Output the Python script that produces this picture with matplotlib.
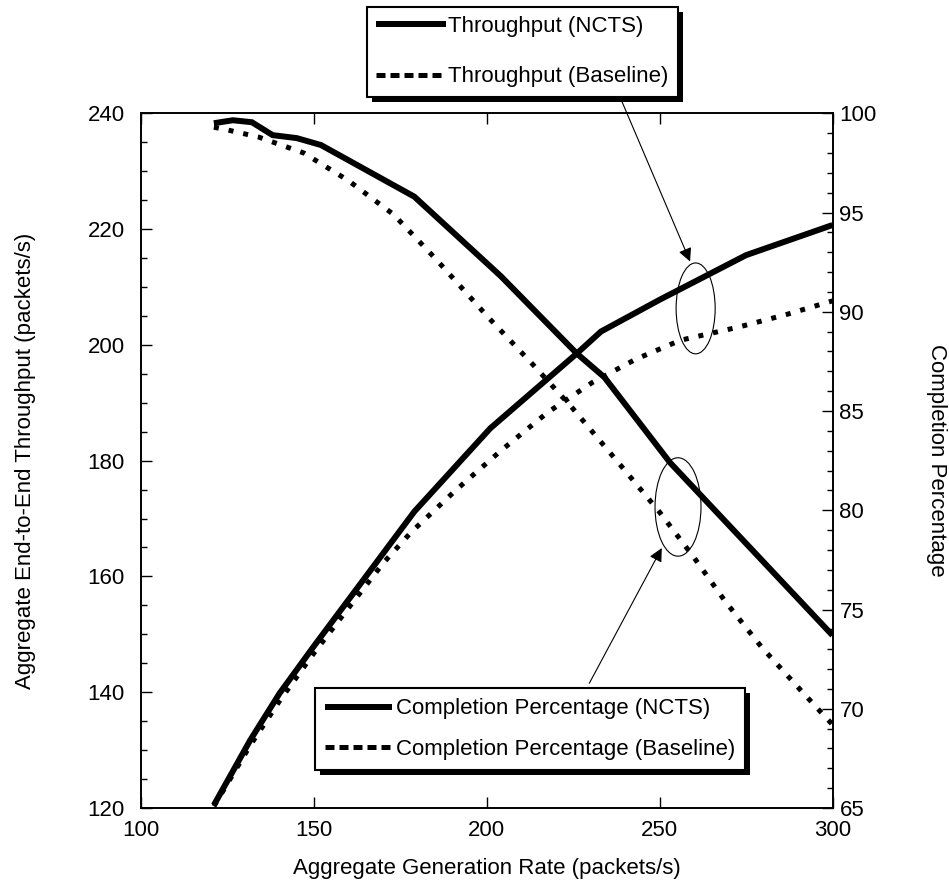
import numpy as np
import matplotlib
matplotlib.use("Agg")
import matplotlib.pyplot as plt
from matplotlib.lines import Line2D
from matplotlib.patches import Ellipse, Rectangle
from matplotlib.ticker import MultipleLocator
from matplotlib.transforms import IdentityTransform

plt.rcParams['font.family'] = ['Liberation Sans', 'DejaVu Sans']

# throughput (left axis)
x_thr_ncts = [121, 131.5, 140, 150, 162, 179, 201, 226, 233, 250, 275, 300]
thr_ncts = [120.5, 131.7, 139.8, 148, 157.6, 171.2, 185.6, 198.5, 202.3, 207.8, 215.5, 220.7]

x_thr_base = [121, 131.5, 140, 150, 160, 170, 178, 191, 204, 217.5, 230.5, 243, 256, 273, 287, 300]
thr_base = [120.3, 130.8, 138.5, 146.8, 154.6, 162.3, 167.6, 174.9, 181.7, 188.3, 193.5, 197.5, 200.8, 203.1, 205.3, 207.6]

# completion percentage (right axis)
x_comp_ncts = [121, 126.5, 132, 138, 145, 152, 179, 204, 226, 234, 253, 300]
comp_ncts = [99.5, 99.65, 99.55, 98.9, 98.75, 98.4, 95.8, 91.8, 87.9, 86.7, 82.4, 73.7]

x_comp_base = [121, 125, 134, 147, 160, 173, 185, 200.5, 213, 224.5, 239, 250, 260, 269, 279.5, 291.5, 300]
comp_base = [99.3, 99.16, 98.8, 98.0, 96.6, 94.9, 92.7, 89.7, 87.4, 85.2, 82.2, 79.9, 77.6, 75.4, 73.1, 70.8, 69.2]

W, H = 949, 892
fig = plt.figure(figsize=(W / 100, H / 100), dpi=100)
ax = fig.add_axes([141.3 / W, 1 - 808 / H, (832.5 - 141.3) / W, (808 - 113.3) / H])
ax2 = ax.twinx()

fs = 16
dot = (0, (1, 2))
ax.plot(x_thr_ncts, thr_ncts, color='k', lw=4.3, solid_capstyle='butt', solid_joinstyle='miter')
ax.plot(x_thr_base, thr_base, color='k', lw=3.6, linestyle=dot, dash_capstyle='butt')
ax2.plot(x_comp_ncts, comp_ncts, color='k', lw=4.3, solid_capstyle='butt', solid_joinstyle='miter')
ax2.plot(x_comp_base, comp_base, color='k', lw=3.6, linestyle=dot, dash_capstyle='butt')

ax.set_xlim(100, 300)
ax.set_ylim(120, 240)
ax2.set_ylim(65, 100)

ax.xaxis.set_major_locator(MultipleLocator(50))
ax.yaxis.set_major_locator(MultipleLocator(20))
ax.yaxis.set_minor_locator(MultipleLocator(5))
ax2.yaxis.set_major_locator(MultipleLocator(5))
ax2.yaxis.set_minor_locator(MultipleLocator(1))

ax.tick_params(axis='x', which='major', direction='in', length=8, width=1, top=True, labelsize=fs, pad=9)
ax.tick_params(axis='y', which='major', direction='in', length=8, width=1, labelsize=fs, pad=12)
ax.tick_params(axis='y', which='minor', direction='in', length=4.5, width=1)
ax2.tick_params(axis='y', which='major', direction='in', length=8, width=1, labelsize=fs, pad=5)
ax2.tick_params(axis='y', which='minor', direction='in', length=4.5, width=1)
for a in (ax, ax2):
    for s in a.spines.values():
        s.set_linewidth(1.2)

ax.set_xlabel('Aggregate Generation Rate (packets/s)', fontsize=fs)
ax.xaxis.set_label_coords(0.5, -0.072)
ax.set_ylabel('Aggregate End-to-End Throughput (packets/s)', fontsize=fs)
ax.yaxis.set_label_coords(-0.153, 0.5)
ax2.set_ylabel('Completion Percentage', fontsize=fs, rotation=-90)
ax2.yaxis.set_label_coords(1.165, 0.5)

# ellipses marking the groups
ax.add_patch(Ellipse((260.4, 206.3), 11.3, 15.7, fill=False, lw=0.8, color='k'))
ax.add_patch(Ellipse((255.3, 172.0), 13.3, 17.0, fill=False, lw=0.8, color='k'))

arrow = dict(arrowstyle='-|>', lw=0.8, color='k', mutation_scale=20, shrinkA=0, shrinkB=0)
ax.annotate('', xy=(258.8, 214.4), xycoords='data', xytext=(620 / W, 1 - 97 / H),
            textcoords='figure fraction', arrowprops=arrow)
ax.annotate('', xy=(250.6, 164.9), xycoords='data', xytext=(589.3 / W, 1 - 683.3 / H),
            textcoords='figure fraction', arrowprops=arrow)

solid_h = Line2D([], [], color='k', lw=4.3, solid_capstyle='butt')
dash_h = Line2D([], [], color='k', lw=3.6, linestyle=(0, (1.8, 1.0)), dash_capstyle='butt')

leg1 = fig.legend([solid_h, dash_h], ['Throughput (NCTS)', 'Throughput (Baseline)'],
                  loc='upper left', bbox_to_anchor=(366.7 / W, 1 - 6.7 / H), borderaxespad=0,
                  fontsize=fs, frameon=True, fancybox=False, edgecolor='k', framealpha=1,
                  handlelength=3.15, handletextpad=0.1, labelspacing=1.32, borderpad=0.42)
leg1.get_frame().set_linewidth(1.5)

leg2 = ax2.legend([solid_h, dash_h], ['Completion Percentage (NCTS)', 'Completion Percentage (Baseline)'],
                  loc='upper left', bbox_to_anchor=(315 / W, 1 - 688.3 / H),
                  bbox_transform=fig.transFigure, borderaxespad=0,
                  fontsize=fs, frameon=True, fancybox=False, edgecolor='k', framealpha=1,
                  handlelength=3.0, handletextpad=0.2, labelspacing=0.87, borderpad=0.45)
leg2.get_frame().set_linewidth(1.5)

# heavy drop shadows behind the legend boxes
fig.canvas.draw()
for leg, owner in ((leg1, fig), (leg2, ax2)):
    bb = leg.get_frame().get_window_extent()
    sh = Rectangle((bb.x0 + 5, bb.y0 - 5), bb.width, bb.height, transform=IdentityTransform(),
                   facecolor='k', edgecolor='none', zorder=leg.get_zorder() - 0.1)
    owner.add_artist(sh)

fig.savefig('out.png', dpi=100)
